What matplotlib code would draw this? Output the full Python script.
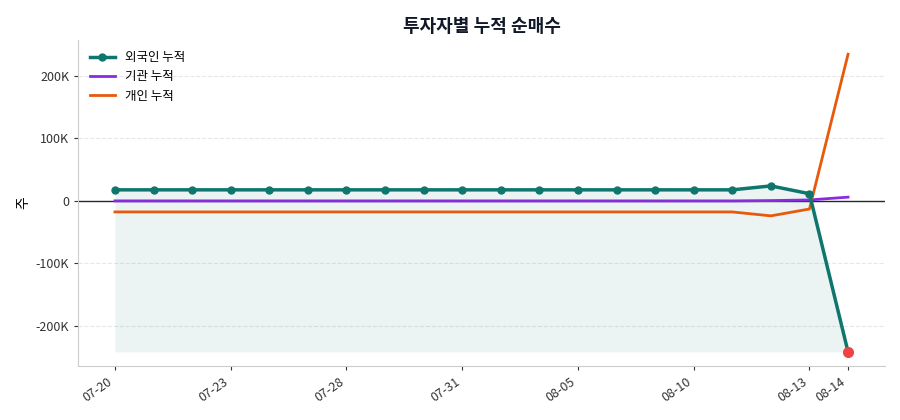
import matplotlib
matplotlib.use("Agg")
import matplotlib.pyplot as plt
import numpy as np

plt.rcParams['font.family'] = ['Noto Sans CJK KR', 'DejaVu Sans']

dates = ["07-20","07-21","07-22","07-23","07-24","07-25","07-28","07-29","07-30","07-31",
         "08-01","08-04","08-05","08-06","08-07","08-10","08-11","08-12","08-13","08-14"]
foreign = [17.7]*17 + [24, 11.5, -242]
inst = [0]*17 + [0.5, 1.5, 6]
indiv = [-17.7]*17 + [-24, -13, 235]
tick_idx = [0,3,6,9,12,15,18,19]
tick_labels = ["07-20","07-23","07-28","07-31","08-05","08-10","08-13","08-14"]

x = np.arange(len(dates))
f = np.array(foreign)*1000
i = np.array(inst)*1000
p = np.array(indiv)*1000

fig, ax = plt.subplots(figsize=(9,4.2), dpi=100)
fig.subplots_adjust(left=0.087, right=0.983, top=0.905, bottom=0.128)
ax.set_axisbelow(True)
ax.fill_between(x, f, f.min(), color='#0f766e', alpha=0.08, lw=0)
ax.axhline(0, color='#1f2937', lw=1, zorder=2.5)
ax.plot(x, f, color='#0f766e', lw=2.5, marker='o', ms=5, label='외국인 누적', zorder=4)
ax.plot(x, i, color='#8a2be2', lw=2, label='기관 누적', zorder=3)
ax.plot(x, p, color='#e8590c', lw=2, label='개인 누적', zorder=3)
ax.plot(x[-1], f[-1], 'o', color='#ef4444', ms=7, zorder=5)

ax.set_xticks(tick_idx)
ax.set_xticklabels(tick_labels, rotation=35, ha='right', fontsize=9)
ax.set_yticks([-200000,-100000,0,100000,200000])
ax.set_yticklabels(['-200K','-100K','0','100K','200K'], fontsize=9)
ax.set_xlim(-0.95, 19.95)
ax.set_ylim(-265000, 258000)
ax.set_ylabel('주', fontsize=10)
ax.grid(axis='y', ls='--', color='#e5e7eb', lw=0.8, zorder=0)
for s in ['top','right']:
    ax.spines[s].set_visible(False)
for s in ['left','bottom']:
    ax.spines[s].set_color('#cccccc')
ax.tick_params(colors='#333333', length=3)
ax.set_title('투자자별 누적 순매수', fontsize=13, fontweight='bold', color='#111827')
ax.legend(loc='upper left', frameon=False, fontsize=9)
fig.savefig('out.png')
